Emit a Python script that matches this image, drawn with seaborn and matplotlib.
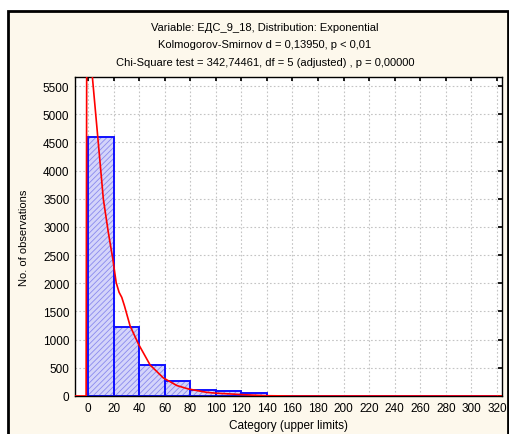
import numpy as np
import pandas as pd
import matplotlib
matplotlib.use("Agg")
import matplotlib.pyplot as plt
from matplotlib.patches import Rectangle
import seaborn as sns

# histogram counts per 20-unit class (upper limits 20..320)
bin_edges = list(range(0, 340, 20))
bin_counts = [4600, 1225, 545, 258, 115, 82, 50, 6, 4, 3, 2, 2, 1, 1, 1, 1]

# fitted exponential curve (expected frequencies)
curve_x = [-10, -1.5, -1.0, 3.4, 7.6, 12.0, 15.9, 19.4, 22.0, 24.3, 26.4, 28.5,
           32.9, 39.5, 48.6, 59.0, 69.6, 78.7, 88.0, 93.0, 100.0, 112.7, 120.0,
           140.0, 160.0, 324.0]
curve_y = [0, 0, 6400, 5660, 4600, 3490, 2900, 2430, 2015, 1840, 1750, 1600,
           1245, 920, 550, 320, 185, 124, 85, 65, 50, 35, 25, 5, 0, 0]

y_ticks = list(range(0, 6000, 500))
x_ticks = list(range(0, 340, 20))

title_lines = [
    "Variable: ЕДС_9_18, Distribution: Exponential",
    "Kolmogorov-Smirnov d = 0,13950, p < 0,01",
    "Chi-Square test = 342,74461, df = 5 (adjusted) , p = 0,00000",
]

sns.set_theme(style="white")
plt.rcParams["font.family"] = ["Liberation Sans", "DejaVu Sans"]
plt.rcParams["hatch.linewidth"] = 0.6
plt.rcParams["text.color"] = "black"
plt.rcParams["axes.labelcolor"] = "black"

centers = [e + 10 for e in bin_edges[:-1]]
df = pd.DataFrame({"x": centers, "n": bin_counts})
curve = pd.DataFrame({"x": curve_x, "y": curve_y})

fig = plt.figure(figsize=(5.1, 4.35), dpi=100, facecolor="white")
fig.patches.append(Rectangle((8 / 510, -0.01), 500 / 510, 1 - 12 / 435 + 0.01,
                             transform=fig.transFigure, facecolor="#fdf8ec",
                             edgecolor="black", linewidth=2, zorder=-5))
ax = fig.add_axes([75 / 510, 1 - 397 / 435, 427 / 510, 319 / 435])
ax.set_facecolor("white")

# hatched fill
sns.histplot(data=df, x="x", weights="n", bins=bin_edges, ax=ax, stat="count",
             color="#d4d4fa", alpha=1, linewidth=0)
for p in ax.patches:
    p.set_hatch("//////")
    p.set_edgecolor("#8a8aee")
    p.set_linewidth(0)
# blue outlines
sns.histplot(data=df, x="x", weights="n", bins=bin_edges, ax=ax, stat="count",
             fill=False, color="#1010ff", linewidth=1.4)

sns.lineplot(data=curve, x="x", y="y", ax=ax, estimator=None, sort=False,
             color="#ff0000", linewidth=1.2, zorder=5)

ax.set_xlim(-10.2, 324)
ax.set_ylim(0, 5660)
ax.set_xticks(x_ticks)
ax.set_yticks(y_ticks)
ax.tick_params(labelsize=8.5, length=3, direction="in", top=True, right=True,
               colors="black", pad=4)
ax.grid(True, linestyle=(0, (1.5, 2)), color="#c4c4c4", linewidth=0.8)
ax.set_axisbelow(True)
for s in ax.spines.values():
    s.set_visible(True)
    s.set_color("black")
    s.set_linewidth(1.0)

ax.set_xlabel("Category (upper limits)", fontsize=8.5, labelpad=4)
ax.set_ylabel("No. of observations", fontsize=8, labelpad=10)

for i, line in enumerate(title_lines):
    fig.text(265 / 510, 1 - (28 + 17.5 * i) / 435, line, ha="center",
             va="center", fontsize=8)

fig.savefig("out.png", dpi=100, facecolor=fig.get_facecolor())
